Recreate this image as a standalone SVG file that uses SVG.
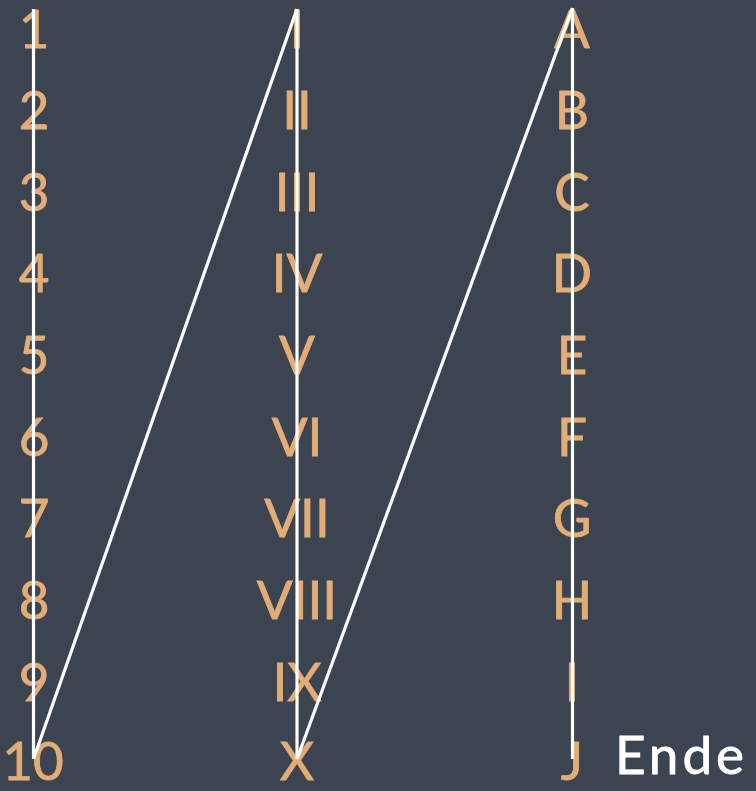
<svg xmlns="http://www.w3.org/2000/svg" width="756" height="791" viewBox="0 0 756 791">
<style>
.t{font-family:"Lato","Noto Sans","DejaVu Sans",sans-serif;font-size:53px;fill:#e2ad76;stroke:#e2ad76;stroke-width:0.8;text-anchor:middle}
.c{stroke:#ffffff;stroke-width:3.2;fill:none;stroke-linecap:butt}
.e{font-family:"Lato","Noto Sans","DejaVu Sans",sans-serif;font-size:53px;fill:#ffffff;stroke:#ffffff;stroke-width:0.8;letter-spacing:4px}
</style>
<rect width="756" height="791" fill="#3b4450"/>
<g id="col1">
<g id="n1"><text class="t" x="34" y="48">1</text></g>
<g id="n2"><text class="t" x="34" y="129">2</text></g>
<g id="n3"><text class="t" x="34" y="211">3</text></g>
<g id="n4"><text class="t" x="34" y="292">4</text></g>
<g id="n5"><text class="t" x="34" y="374">5</text></g>
<g id="n6"><text class="t" x="34" y="456">6</text></g>
<g id="n7"><text class="t" x="34" y="537">7</text></g>
<g id="n8"><text class="t" x="34" y="619">8</text></g>
<g id="n9"><text class="t" x="34" y="701">9</text></g>
<g id="n10"><text class="t" x="33" y="780">10</text></g>
</g>
<g id="col2">
<g id="r1"><text class="t" x="297" y="48">I</text></g>
<g id="r2"><text class="t" x="297" y="129">II</text></g>
<g id="r3"><text class="t" x="297" y="211">III</text></g>
<g id="r4"><text class="t" x="297" y="292">IV</text></g>
<g id="r5"><text class="t" x="297" y="374">V</text></g>
<g id="r6"><text class="t" x="297" y="456">VI</text></g>
<g id="r7"><text class="t" x="297" y="537">VII</text></g>
<g id="r8"><text class="t" x="297" y="619">VIII</text></g>
<g id="r9"><text class="t" x="297" y="701">IX</text></g>
<g id="r10"><text class="t" x="297" y="780">X</text></g>
</g>
<g id="col3">
<g id="a1"><text class="t" x="572" y="48">A</text></g>
<g id="a2"><text class="t" x="572" y="129">B</text></g>
<g id="a3"><text class="t" x="572" y="211">C</text></g>
<g id="a4"><text class="t" x="572" y="292">D</text></g>
<g id="a5"><text class="t" x="572" y="374">E</text></g>
<g id="a6"><text class="t" x="572" y="456">F</text></g>
<g id="a7"><text class="t" x="572" y="537">G</text></g>
<g id="a8"><text class="t" x="572" y="619">H</text></g>
<g id="a9"><text class="t" x="572" y="701">I</text></g>
<g id="a10"><text class="t" x="572" y="780">J</text></g>
</g>
<g id="end"><text class="e" x="615" y="774">Ende</text></g>
<g id="connectors">
<line class="c" x1="33.5" y1="9" x2="33.5" y2="759"/>
<line class="c" x1="33.5" y1="759" x2="297" y2="9"/>
<line class="c" x1="297" y1="9" x2="297" y2="759"/>
<line class="c" x1="297" y1="759" x2="572.5" y2="8"/>
<line class="c" x1="572.5" y1="8" x2="572.5" y2="759"/>
</g>
</svg>
